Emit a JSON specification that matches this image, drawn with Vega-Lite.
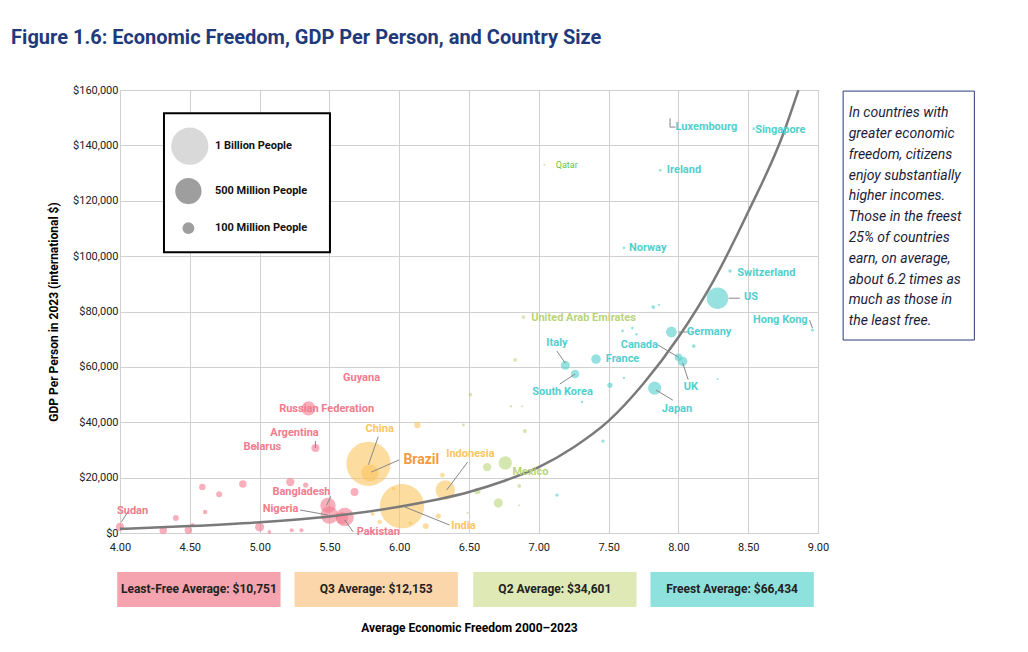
{
  "$schema": "https://vega.github.io/schema/vega-lite/v6.json",
  "width": 698,
  "height": 443,
  "autosize": "none",
  "padding": {"left": 120, "top": 90, "right": 210, "bottom": 119},
  "background": "white",
  "config": {"font": "Roboto", "view": {"stroke": "#cccccc"}},
  "datasets": {
    "points": [
      {"g": "Q4", "x": 4.0, "y": 2200, "pop": 48},
      {"g": "Q4", "x": 5.66, "y": 56000, "pop": 1},
      {"g": "Q4", "x": 5.35, "y": 45000, "pop": 145},
      {"g": "Q4", "x": 4.97, "y": 31000, "pop": 9},
      {"g": "Q4", "x": 5.40, "y": 30700, "pop": 46},
      {"g": "Q4", "x": 5.49, "y": 10000, "pop": 170},
      {"g": "Q4", "x": 5.50, "y": 6500, "pop": 220},
      {"g": "Q4", "x": 5.61, "y": 5800, "pop": 240},
      {"g": "Q4", "x": 4.59, "y": 16600, "pop": 30},
      {"g": "Q4", "x": 4.71, "y": 14000, "pop": 25},
      {"g": "Q4", "x": 4.88, "y": 17700, "pop": 40},
      {"g": "Q4", "x": 5.22, "y": 18400, "pop": 50},
      {"g": "Q4", "x": 5.33, "y": 17300, "pop": 20},
      {"g": "Q4", "x": 5.68, "y": 14800, "pop": 45},
      {"g": "Q4", "x": 4.40, "y": 5400, "pop": 25},
      {"g": "Q4", "x": 4.61, "y": 7600, "pop": 15},
      {"g": "Q4", "x": 4.31, "y": 1000, "pop": 40},
      {"g": "Q4", "x": 4.49, "y": 1000, "pop": 40},
      {"g": "Q4", "x": 5.00, "y": 2200, "pop": 60},
      {"g": "Q4", "x": 5.07, "y": 400, "pop": 10},
      {"g": "Q4", "x": 5.23, "y": 1000, "pop": 12},
      {"g": "Q4", "x": 5.30, "y": 1000, "pop": 12},
      {"g": "Q4", "x": 5.59, "y": 5400, "pop": 110},
      {"g": "Q4", "x": 4.52, "y": 2900, "pop": 10},
      {"g": "Q3", "x": 5.78, "y": 25000, "pop": 1410},
      {"g": "Q3", "x": 5.79, "y": 21700, "pop": 215},
      {"g": "Q3", "x": 6.02, "y": 9700, "pop": 1420},
      {"g": "Q3", "x": 6.33, "y": 15500, "pop": 275},
      {"g": "Q3", "x": 6.13, "y": 39000, "pop": 30},
      {"g": "Q3", "x": 6.31, "y": 20900, "pop": 15},
      {"g": "Q3", "x": 6.28, "y": 6100, "pop": 20},
      {"g": "Q3", "x": 6.19, "y": 2500, "pop": 25},
      {"g": "Q3", "x": 5.86, "y": 4000, "pop": 15},
      {"g": "Q3", "x": 5.81, "y": 6900, "pop": 10},
      {"g": "Q3", "x": 5.96, "y": 16000, "pop": 8},
      {"g": "Q3", "x": 6.08, "y": 3600, "pop": 10},
      {"g": "Q2", "x": 6.89, "y": 78000, "pop": 10},
      {"g": "Q2", "x": 7.04, "y": 133000, "pop": 3},
      {"g": "Q2", "x": 6.76, "y": 25300, "pop": 128},
      {"g": "Q2", "x": 6.63, "y": 23800, "pop": 50},
      {"g": "Q2", "x": 6.71, "y": 10800, "pop": 60},
      {"g": "Q2", "x": 6.56, "y": 15200, "pop": 30},
      {"g": "Q2", "x": 6.86, "y": 17000, "pop": 10},
      {"g": "Q2", "x": 6.83, "y": 62500, "pop": 10},
      {"g": "Q2", "x": 6.51, "y": 50000, "pop": 10},
      {"g": "Q2", "x": 6.90, "y": 36800, "pop": 12},
      {"g": "Q2", "x": 6.80, "y": 45800, "pop": 5},
      {"g": "Q2", "x": 6.46, "y": 39000, "pop": 6},
      {"g": "Q2", "x": 6.88, "y": 45800, "pop": 3},
      {"g": "Q2", "x": 6.86, "y": 10000, "pop": 3},
      {"g": "Q2", "x": 6.49, "y": 7200, "pop": 3},
      {"g": "Q1", "x": 8.28, "y": 84800, "pop": 335},
      {"g": "Q1", "x": 7.95, "y": 72600, "pop": 84},
      {"g": "Q1", "x": 8.00, "y": 63500, "pop": 39},
      {"g": "Q1", "x": 8.03, "y": 62000, "pop": 67},
      {"g": "Q1", "x": 7.83, "y": 52300, "pop": 125},
      {"g": "Q1", "x": 7.19, "y": 60600, "pop": 59},
      {"g": "Q1", "x": 7.26, "y": 57400, "pop": 52},
      {"g": "Q1", "x": 7.41, "y": 62800, "pop": 68},
      {"g": "Q1", "x": 8.96, "y": 73300, "pop": 7},
      {"g": "Q1", "x": 8.54, "y": 146000, "pop": 6},
      {"g": "Q1", "x": 7.94, "y": 148000, "pop": 1},
      {"g": "Q1", "x": 7.87, "y": 131000, "pop": 5},
      {"g": "Q1", "x": 7.61, "y": 103000, "pop": 5},
      {"g": "Q1", "x": 8.37, "y": 94600, "pop": 9},
      {"g": "Q1", "x": 7.82, "y": 81600, "pop": 10},
      {"g": "Q1", "x": 7.86, "y": 82400, "pop": 4},
      {"g": "Q1", "x": 7.51, "y": 53400, "pop": 20},
      {"g": "Q1", "x": 8.11, "y": 67500, "pop": 10},
      {"g": "Q1", "x": 7.60, "y": 73000, "pop": 5},
      {"g": "Q1", "x": 7.67, "y": 74000, "pop": 5},
      {"g": "Q1", "x": 7.70, "y": 71800, "pop": 5},
      {"g": "Q1", "x": 7.46, "y": 33200, "pop": 8},
      {"g": "Q1", "x": 7.13, "y": 13700, "pop": 8},
      {"g": "Q1", "x": 7.61, "y": 56000, "pop": 4},
      {"g": "Q1", "x": 7.31, "y": 47300, "pop": 4},
      {"g": "Q1", "x": 8.28, "y": 55600, "pop": 3}
    ],
    "curve": [
      {"x": 4.0, "y": 1500}, {"x": 4.5, "y": 2500}, {"x": 5.0, "y": 3900},
      {"x": 5.5, "y": 6000}, {"x": 6.0, "y": 9500}, {"x": 6.5, "y": 14800},
      {"x": 6.75, "y": 18800}, {"x": 7.0, "y": 23800}, {"x": 7.25, "y": 31000},
      {"x": 7.5, "y": 40500}, {"x": 7.75, "y": 54000}, {"x": 8.0, "y": 70700},
      {"x": 8.25, "y": 91000}, {"x": 8.5, "y": 116000}, {"x": 8.75, "y": 144000},
      {"x": 8.86, "y": 160000}
    ],
    "labels": [
      {"t": "Sudan", "g": "Q4", "x": 4.09, "y": 7900, "a": "left"},
      {"t": "Guyana", "g": "Q4", "x": 5.73, "y": 56000, "a": "left"},
      {"t": "Russian Federation", "g": "Q4", "x": 5.48, "y": 44800, "a": "left"},
      {"t": "Argentina", "g": "Q4", "x": 5.25, "y": 36100, "a": "left"},
      {"t": "Belarus", "g": "Q4", "x": 5.02, "y": 31000, "a": "left"},
      {"t": "Bangladesh", "g": "Q4", "x": 5.30, "y": 14800, "a": "center"},
      {"t": "Nigeria", "g": "Q4", "x": 5.15, "y": 8700, "a": "center"},
      {"t": "Pakistan", "g": "Q4", "x": 5.85, "y": 400, "a": "center"},
      {"t": "China", "g": "Q3", "x": 5.86, "y": 37500, "a": "center"},
      {"t": "Indonesia", "g": "Q3", "x": 6.51, "y": 28500, "a": "center"},
      {"t": "India", "g": "Q3", "x": 6.46, "y": 2500, "a": "center"},
      {"t": "Mexico", "g": "Q2", "x": 6.94, "y": 22000, "a": "center"},
      {"t": "United Arab Emirates", "g": "Q2", "x": 7.32, "y": 77600, "a": "center"},
      {"t": "Luxembourg", "g": "Q1", "x": 8.20, "y": 146600, "a": "center"},
      {"t": "Singapore", "g": "Q1", "x": 8.73, "y": 145500, "a": "center"},
      {"t": "Ireland", "g": "Q1", "x": 8.04, "y": 131000, "a": "center"},
      {"t": "Norway", "g": "Q1", "x": 7.78, "y": 103000, "a": "center"},
      {"t": "Switzerland", "g": "Q1", "x": 8.63, "y": 93900, "a": "center"},
      {"t": "US", "g": "Q1", "x": 8.52, "y": 85200, "a": "center"},
      {"t": "Hong Kong", "g": "Q1", "x": 8.73, "y": 76900, "a": "center"},
      {"t": "Germany", "g": "Q1", "x": 8.22, "y": 72600, "a": "center"},
      {"t": "Canada", "g": "Q1", "x": 7.72, "y": 68000, "a": "center"},
      {"t": "UK", "g": "Q1", "x": 8.09, "y": 52700, "a": "center"},
      {"t": "Japan", "g": "Q1", "x": 7.99, "y": 44800, "a": "center"},
      {"t": "Italy", "g": "Q1", "x": 7.13, "y": 68600, "a": "center"},
      {"t": "France", "g": "Q1", "x": 7.60, "y": 62800, "a": "center"},
      {"t": "South Korea", "g": "Q1", "x": 7.17, "y": 50900, "a": "center"}
    ],
    "leaders": [
      {"x": 4.01, "y": 4000, "x2": 4.06, "y2": 7900},
      {"x": 5.40, "y": 33200, "x2": 5.40, "y2": 30700},
      {"x": 5.85, "y": 34800, "x2": 5.78, "y2": 24700},
      {"x": 6.00, "y": 26400, "x2": 5.80, "y2": 22000},
      {"x": 5.51, "y": 13300, "x2": 5.48, "y2": 10000},
      {"x": 5.29, "y": 8300, "x2": 5.49, "y2": 6500},
      {"x": 5.61, "y": 4700, "x2": 5.67, "y2": 400},
      {"x": 6.49, "y": 25600, "x2": 6.34, "y2": 15500},
      {"x": 6.04, "y": 9400, "x2": 6.36, "y2": 2900},
      {"x": 7.13, "y": 65700, "x2": 7.19, "y2": 61300},
      {"x": 7.15, "y": 53800, "x2": 7.26, "y2": 57400},
      {"x": 7.85, "y": 68000, "x2": 8.00, "y2": 63500},
      {"x": 8.07, "y": 55400, "x2": 8.03, "y2": 61500},
      {"x": 7.84, "y": 51600, "x2": 7.96, "y2": 48000},
      {"x": 8.36, "y": 84800, "x2": 8.44, "y2": 84800},
      {"x": 8.00, "y": 72600, "x2": 8.08, "y2": 72600},
      {"x": 8.94, "y": 76900, "x2": 8.96, "y2": 74000},
      {"x": 7.94, "y": 149800, "x2": 7.94, "y2": 146600},
      {"x": 7.94, "y": 146600, "x2": 7.98, "y2": 146600}
    ],
    "legend": [
      {"x": 4.50, "y": 139700, "pop": 1000, "c": "#d9d9d9", "t": "1 Billion People"},
      {"x": 4.49, "y": 123500, "pop": 500, "c": "#9e9e9e", "t": "500 Million People"},
      {"x": 4.49, "y": 110100, "pop": 100, "c": "#9e9e9e", "t": "100 Million People"}
    ],
    "boxes": [
      {"x": 3.98, "x2": 5.15, "c": "#f5a3ae", "t": "Least-Free Average: $10,751"},
      {"x": 5.25, "x2": 6.42, "c": "#fcd6ab", "t": "Q3 Average: $12,153"},
      {"x": 6.53, "x2": 7.70, "c": "#dfe9b6", "t": "Q2 Average: $34,601"},
      {"x": 7.80, "x2": 8.97, "c": "#8fe1de", "t": "Freest Average: $66,434"}
    ],
    "note": [
      {"t": "In countries with", "y": 151600},
      {"t": "greater economic", "y": 144100},
      {"t": "freedom, citizens", "y": 136600},
      {"t": "enjoy substantially", "y": 129100},
      {"t": "higher incomes.", "y": 121600},
      {"t": "Those in the freest", "y": 114100},
      {"t": "25% of countries", "y": 106500},
      {"t": "earn, on average,", "y": 99000},
      {"t": "about 6.2 times as", "y": 91500},
      {"t": "much as those in", "y": 84000},
      {"t": "the least free.", "y": 76500}
    ]
  },
  "layer": [
    {
      "data": {"name": "points"},
      "mark": {"type": "circle", "opacity": 0.6},
      "encoding": {
        "x": {"field": "x", "type": "quantitative", "scale": {"domain": [4, 9], "nice": false},
          "axis": {"values": [4, 4.5, 5, 5.5, 6, 6.5, 7, 7.5, 8, 8.5, 9], "format": ".2f", "title": "Average Economic Freedom 2000–2023",
            "titleFontSize": 12, "titleFontWeight": "bold", "titlePadding": 70, "labelFontSize": 11, "labelColor": "#222",
            "ticks": false, "domain": false, "gridColor": "#d0d0d0", "labelPadding": 8, "labelFlush": false}},
        "y": {"field": "y", "type": "quantitative", "scale": {"domain": [0, 160000], "nice": false},
          "axis": {"values": [0, 20000, 40000, 60000, 80000, 100000, 120000, 140000, 160000], "format": "$,.0f",
            "title": "GDP Per Person in 2023 (international $)", "titleFontSize": 12, "titleFontWeight": "bold",
            "labelFontSize": 11, "labelColor": "#222", "ticks": false, "domain": false, "gridColor": "#d0d0d0", "titlePadding": 12, "labelFlush": false}},
        "size": {"field": "pop", "type": "quantitative", "scale": {"domain": [0, 1000], "range": [0, 1385], "zero": true}, "legend": null},
        "color": {"field": "g", "type": "nominal", "scale": {"domain": ["Q4", "Q3", "Q2", "Q1"], "range": ["#f27b8e", "#fcc561", "#b9d57a", "#52cfcd"]}, "legend": null}
      }
    },
    {
      "data": {"name": "curve"},
      "mark": {"type": "line", "color": "#7a7a7a", "strokeWidth": 2.5, "interpolate": "monotone", "clip": true},
      "encoding": {"x": {"field": "x", "type": "quantitative"}, "y": {"field": "y", "type": "quantitative"}}
    },
    {
      "data": {"name": "leaders"},
      "mark": {"type": "rule", "color": "#888", "strokeWidth": 1},
      "encoding": {"x": {"field": "x", "type": "quantitative"}, "y": {"field": "y", "type": "quantitative"},
        "x2": {"field": "x2"}, "y2": {"field": "y2"}}
    },
    {
      "data": {"name": "labels"},
      "mark": {"type": "text", "fontWeight": "bold", "fontSize": 11, "baseline": "middle"},
      "encoding": {
        "x": {"field": "x", "type": "quantitative"}, "y": {"field": "y", "type": "quantitative"},
        "text": {"field": "t"}, "align": {"field": "a", "type": "nominal", "scale": null},
        "color": {"field": "g", "type": "nominal", "scale": {"domain": ["Q4", "Q3", "Q2", "Q1"], "range": ["#e5304f", "#f59a3d", "#a6c33b", "#14b3b3"]}, "legend": null}
      }
    },
    {
      "data": {"values": [{"t": "Brazil", "x": 6.03, "y": 26400}]},
      "mark": {"type": "text", "fontWeight": "bold", "fontSize": 14, "align": "left", "baseline": "middle", "color": "#f59a3d"},
      "encoding": {"x": {"field": "x", "type": "quantitative"}, "y": {"field": "y", "type": "quantitative"}, "text": {"field": "t"}}
    },
    {
      "data": {"values": [{"t": "Qatar", "x": 7.20, "y": 133000}]},
      "mark": {"type": "text", "fontSize": 9, "baseline": "middle", "color": "#6fbf3a"},
      "encoding": {"x": {"field": "x", "type": "quantitative"}, "y": {"field": "y", "type": "quantitative"}, "text": {"field": "t"}}
    },
    {
      "data": {"values": [{"x": 4.315, "x2": 5.504, "y": 151600, "y2": 101400}]},
      "mark": {"type": "rect", "fill": "white", "stroke": "black", "strokeWidth": 2},
      "encoding": {"x": {"field": "x", "type": "quantitative"}, "x2": {"field": "x2"}, "y": {"field": "y", "type": "quantitative"}, "y2": {"field": "y2"}}
    },
    {
      "data": {"name": "legend"},
      "mark": {"type": "circle", "opacity": 1},
      "encoding": {"x": {"field": "x", "type": "quantitative"}, "y": {"field": "y", "type": "quantitative"},
        "size": {"field": "pop", "type": "quantitative"}, "color": {"field": "c", "type": "nominal", "scale": null}}
    },
    {
      "data": {"name": "legend"},
      "mark": {"type": "text", "fontWeight": "bold", "fontSize": 11, "align": "left", "baseline": "middle", "color": "#111"},
      "encoding": {"x": {"datum": 4.68, "type": "quantitative"}, "y": {"field": "y", "type": "quantitative"}, "text": {"field": "t"}}
    },
    {
      "data": {"name": "boxes"},
      "mark": {"type": "rect", "clip": false},
      "encoding": {"x": {"field": "x", "type": "quantitative"}, "x2": {"field": "x2"},
        "y": {"datum": -14100, "type": "quantitative"}, "y2": {"datum": -26700}, "color": {"field": "c", "type": "nominal", "scale": null}}
    },
    {
      "data": {"name": "boxes"},
      "transform": [{"calculate": "(datum.x + datum.x2) / 2", "as": "xm"}],
      "mark": {"type": "text", "fontWeight": "bold", "fontSize": 12, "color": "#222", "baseline": "middle"},
      "encoding": {"x": {"field": "xm", "type": "quantitative"}, "y": {"datum": -20400, "type": "quantitative"}, "text": {"field": "t"}}
    },
    {
      "data": {"values": [{"x": 9.18, "x2": 10.12, "y": 159600, "y2": 69700}]},
      "mark": {"type": "rect", "fill": "white", "stroke": "#2b3a7a", "strokeWidth": 1, "clip": false},
      "encoding": {"x": {"field": "x", "type": "quantitative"}, "x2": {"field": "x2"}, "y": {"field": "y", "type": "quantitative"}, "y2": {"field": "y2"}}
    },
    {
      "data": {"name": "note"},
      "mark": {"type": "text", "fontStyle": "italic", "fontSize": 14, "align": "left", "baseline": "middle", "color": "#1c1c3a"},
      "encoding": {"x": {"datum": 9.22, "type": "quantitative"}, "y": {"field": "y", "type": "quantitative"}, "text": {"field": "t"}}
    },
    {
      "data": {"values": [{"t": "Figure 1.6: Economic Freedom, GDP Per Person, and Country Size"}]},
      "mark": {"type": "text", "fontWeight": "bold", "fontSize": 20, "align": "left", "baseline": "middle", "color": "#1f3a7a"},
      "encoding": {"x": {"datum": 3.22, "type": "quantitative"}, "y": {"datum": 178700, "type": "quantitative"}, "text": {"field": "t"}}
    }
  ]
}
